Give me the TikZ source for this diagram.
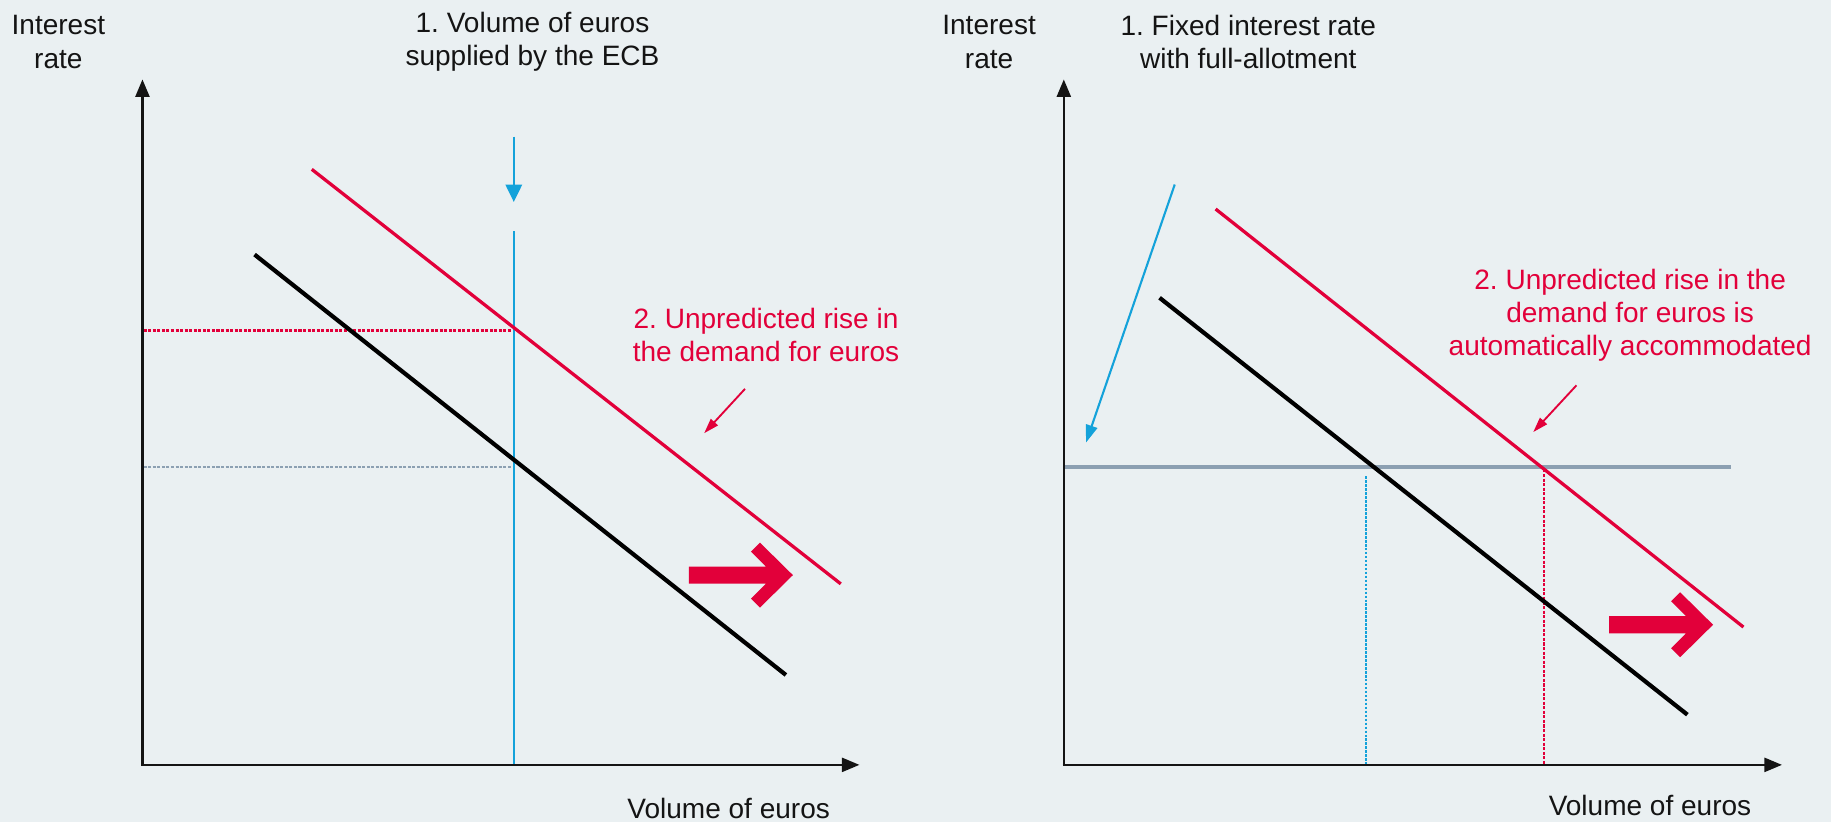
\documentclass[tikz,border=0pt]{standalone}
\usepackage{fontspec}
\setmainfont{Liberation Sans}
\usetikzlibrary{arrows.meta}
\definecolor{bg}{RGB}{234,240,242}
\definecolor{ecbred}{RGB}{226,0,58}
\definecolor{ecbblue}{RGB}{20,162,218}
\definecolor{ecbgray}{RGB}{140,160,178}
\definecolor{ink}{RGB}{20,20,20}
\begin{document}
\frenchspacing
\begin{tikzpicture}[x=1pt,y=-1pt,
  lbl/.style={font=\fontsize{24}{28.5}\selectfont, align=center, text=ink, inner sep=0pt},
  redlbl/.style={lbl, text=ecbred},
  axis/.style={line width=2pt, draw=ink, -{Triangle[length=15pt,width=12pt]}},
  demand/.style={line width=3.6pt, draw=black},
  newdemand/.style={line width=2.8pt, draw=ecbred},
  supply/.style={line width=1.8pt, draw=ecbblue},
  bluearrow/.style={line width=2.2pt, draw=ecbblue, -{Triangle[length=15pt,width=14pt]}},
  smallred/.style={line width=1.6pt, draw=ecbred, -{Triangle[length=13pt,width=8pt]}},
  smallblue/.style={line width=1.8pt, draw=ecbblue, -{Triangle[length=15pt,width=10pt]}},
  reddot/.style={line width=2.2pt, draw=ecbred, dash pattern=on 2.6pt off 1.3pt},
  graydot/.style={line width=2.4pt, draw=ecbgray, dash pattern=on 2.6pt off 1.3pt},
  reddash/.style={line width=1.8pt, draw=ecbred, dash pattern=on 2.6pt off 1.3pt},
  bluedash/.style={line width=1.8pt, draw=ecbblue, dash pattern=on 2.2pt off 1.2pt},
  rateline/.style={line width=2.8pt, draw=ecbgray},
  bigarrow/.style={fill=ecbred}
]
\fill[bg] (0,0) rectangle (1568,704);
\useasboundingbox (0,0) rectangle (1568,704);

% ---------------- Left panel ----------------
\coordinate (LO) at (122,655);
\coordinate (LYT) at (122,68);
\coordinate (LXT) at (736,655);
\node[lbl] (Lyl) at (50,36) {Interest\\rate};
\node[lbl] (Ltitle) at (456,36) {1. Volume of euros\\supplied by the ECB};
\node[redlbl] (Lred) at (656,287) {2. Unpredicted rise in\\the demand for euros};
\node[lbl] (Lxl) at (624,692) {Volume of euros};

\coordinate (LD1) at (218,218);
\coordinate (LD2) at (673,578);
\coordinate (LN1) at (267,145);
\coordinate (LN2) at (720,500);
\coordinate (LS1) at (440,198);
\coordinate (LS2) at (440,655);
\coordinate (LA1) at (440,117);
\coordinate (LA2) at (440,173);
\coordinate (LRY) at (123,283);
\coordinate (LRX) at (440,283);
\coordinate (LGY) at (123,400);
\coordinate (LGX) at (440,400);
\coordinate (LRA1) at (638,333);
\coordinate (LRA2) at (603,371);

\draw[reddot] (LRY) -- (LRX);
\draw[graydot] (LGY) -- (LGX);
\draw[supply] (LS1) -- (LS2);
\draw[bluearrow] (LA1) -- (LA2);
\draw[demand] (LD1) -- (LD2);
\draw[newdemand] (LN1) -- (LN2);
\draw[smallred] (LRA1) -- (LRA2);
\fill[bigarrow, shift={(590,492.5)}] (0,-7.3) -- (65.9,-7.3) -- (53.1,-20.1) -- (60.8,-27.8) -- (89,0) -- (60.8,27.8) -- (53.1,20.1) -- (65.9,7.3) -- (0,7.3) -- cycle;
\draw[axis] (LO) -- (LYT);
\draw[axis] ([xshift=-1pt]LO) -- (LXT);

% ---------------- Right panel ----------------
\coordinate (RO) at (911,655);
\coordinate (RYT) at (911,68);
\coordinate (RXT) at (1526,655);
\node[lbl] (Ryl) at (847,36) {Interest\\rate};
\node[lbl] (Rtitle) at (1069,36) {1. Fixed interest rate\\with full-allotment};
\node[redlbl] (Rred) at (1396,270) {2. Unpredicted rise in the\\demand for euros is\\automatically accommodated};
\node[lbl] (Rxl) at (1413,690) {Volume of euros};

\coordinate (RD1) at (993,255);
\coordinate (RD2) at (1445,612);
\coordinate (RN1) at (1041,179);
\coordinate (RN2) at (1493,537);
\coordinate (RL1) at (911,400);
\coordinate (RL2) at (1482,400);
\coordinate (RB1) at (1170,408);
\coordinate (RB2) at (1170,655);
\coordinate (RR1) at (1322,402);
\coordinate (RR2) at (1322,655);
\coordinate (RBA1) at (1006,158);
\coordinate (RBA2) at (930,379);
\coordinate (RRA1) at (1350,330);
\coordinate (RRA2) at (1313,370);

\draw[rateline] (RL1) -- (RL2);
\draw[bluedash] (RB1) -- (RB2);
\draw[reddash] (RR1) -- (RR2);
\draw[demand] (RD1) -- (RD2);
\draw[newdemand] (RN1) -- (RN2);
\draw[smallblue] (RBA1) -- (RBA2);
\draw[smallred] (RRA1) -- (RRA2);
\fill[bigarrow, shift={(1378,535)}] (0,-7.3) -- (65.9,-7.3) -- (53.1,-20.1) -- (60.8,-27.8) -- (89,0) -- (60.8,27.8) -- (53.1,20.1) -- (65.9,7.3) -- (0,7.3) -- cycle;
\draw[axis] (RO) -- (RYT);
\draw[axis] ([xshift=-1pt]RO) -- (RXT);
\end{tikzpicture}
\end{document}
